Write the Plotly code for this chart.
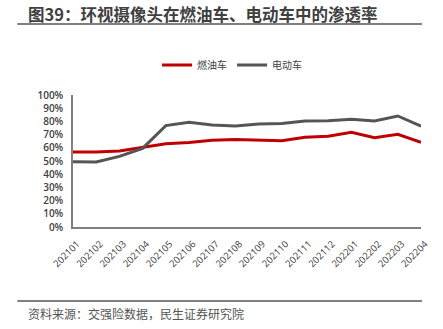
import plotly.graph_objects as go

months = ["202101", "202102", "202103", "202104", "202105", "202106", "202107", "202108",
          "202109", "202110", "202111", "202112", "202201", "202202", "202203", "202204"]
fuel = [0.568, 0.568, 0.575, 0.604, 0.631, 0.641, 0.657, 0.662, 0.659, 0.654, 0.679, 0.687,
        0.717, 0.677, 0.702, 0.641]
ev = [0.495, 0.493, 0.535, 0.596, 0.768, 0.793, 0.773, 0.765, 0.780, 0.785, 0.803, 0.805,
      0.816, 0.803, 0.841, 0.765]
yticks = [i / 10 for i in range(11)]
yticklabels = [f"{i*10}%" for i in range(11)]

L, R, T, B = 73, 423, 95, 227
W, H = 443, 329


def px(x):
    return (x - L) / (R - L)


def py(y):
    return (B - y) / (B - T)


fig = go.Figure()
fig.add_trace(go.Scatter(x=months, y=fuel, mode="lines", name="燃油车",
                         line=dict(color="#C00000", width=3)))
fig.add_trace(go.Scatter(x=months, y=ev, mode="lines", name="电动车",
                         line=dict(color="#555555", width=3)))

fig.update_layout(
    width=W, height=H,
    margin=dict(l=L, r=W - R, t=T, b=H - B),
    plot_bgcolor="white", paper_bgcolor="white",
    font=dict(family="Open Sans, Noto Sans CJK SC", color="#404040"),
    showlegend=True,
    legend=dict(orientation="h", x=px(233), xanchor="center", y=py(65), yanchor="middle",
                font=dict(size=10, family="Noto Sans CJK SC", color="#404040"),
                itemwidth=30, tracegroupgap=0, bgcolor="rgba(0,0,0,0)"),
    xaxis=dict(type="category", showline=True, linecolor="#808080", linewidth=1.5,
               showgrid=False, ticks="", tickangle=-45, ticklabelshift=4, ticklabelstandoff=6,
               tickfont=dict(size=9.5, color="#404040", family="Open Sans")),
    yaxis=dict(range=[0, 1], tickvals=yticks, ticktext=yticklabels, showline=True,
               linecolor="#808080", linewidth=1.5, showgrid=False, zeroline=False, ticks="",
               ticklabelstandoff=6,
               tickfont=dict(size=10, color="#404040", family="Open Sans", weight=600)),
    shapes=[
        dict(type="line", xref="paper", yref="paper", x0=px(17), x1=px(424),
             y0=py(24), y1=py(24), line=dict(color="#555555", width=1.5)),
        dict(type="line", xref="paper", yref="paper", x0=px(17), x1=px(424),
             y0=py(301), y1=py(301), line=dict(color="#555555", width=1.5)),
    ],
    annotations=[
        dict(text="<b>图39：环视摄像头在燃油车、电动车中的渗透率</b>", xref="paper", yref="paper",
             x=px(26), y=py(14), xanchor="left", yanchor="middle", showarrow=False,
             font=dict(size=16.5, family="Noto Sans CJK SC", color="#404040")),
        dict(text="资料来源：交强险数据，民生证券研究院", xref="paper", yref="paper",
             x=px(26), y=py(313), xanchor="left", yanchor="middle", showarrow=False,
             font=dict(size=12, family="Noto Sans CJK SC", color="#555555")),
    ],
)

fig.write_html("out.html")
